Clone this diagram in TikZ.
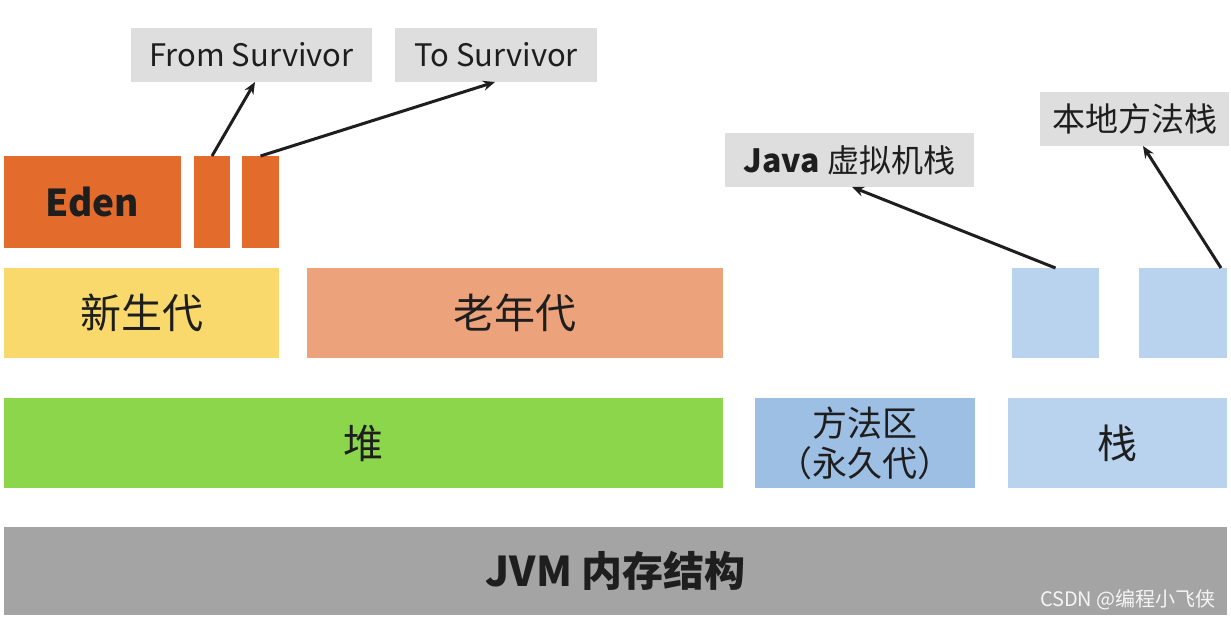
\documentclass[tikz,border=0pt]{standalone}
\usepackage{fontspec}
\setmainfont{Noto Sans CJK SC}
\usetikzlibrary{arrows.meta,calc}
\definecolor{cEden}{HTML}{E36B2C}
\definecolor{cYoung}{HTML}{F9D96B}
\definecolor{cOld}{HTML}{ECA27B}
\definecolor{cHeap}{HTML}{8BD64A}
\definecolor{cMeth}{HTML}{9DBFE3}
\definecolor{cStack}{HTML}{B9D3EE}
\definecolor{cJvm}{HTML}{A4A4A4}
\definecolor{cLabel}{HTML}{DEDEDE}
\definecolor{cText}{HTML}{1E1E1E}
\tikzset{
  blk/.style={rectangle, inner sep=0pt, outer sep=0pt, text=cText, align=center},
  lbl/.style={rectangle, fill=cLabel, inner sep=0pt, outer sep=0pt, text=cText, minimum height=54pt},
  arr/.style={draw=cText, line width=3pt, -{Stealth[length=12pt,width=10pt]}},
}
\begin{document}
\begin{tikzpicture}[x=1pt,y=-1pt]
\useasboundingbox (0,0) rectangle (1231,619);
\fill[white] (0,0) rectangle (1231,619);
% row 1
\node[blk, fill=cEden, minimum width=177pt, minimum height=92pt, font=\fontsize{37}{42}\selectfont\bfseries] (eden) at (92.5,202) {Eden};
\node[blk, fill=cEden, minimum width=36pt, minimum height=92pt] (s1) at (212,202) {};
\node[blk, fill=cEden, minimum width=37pt, minimum height=92pt] (s2) at (260.5,202) {};
\node[lbl, minimum width=241pt, font=\fontsize{31}{34}\selectfont] (from) at (251.5,55) {From Survivor};
\node[lbl, minimum width=202pt, font=\fontsize{31}{34}\selectfont] (to) at (496,55) {To Survivor};
% row 2
\node[blk, fill=cYoung, minimum width=275pt, minimum height=90pt, font=\fontsize{41}{44}\selectfont] (young) at (141.5,313) {新生代};
\node[blk, fill=cOld, minimum width=416pt, minimum height=90pt, font=\fontsize{41}{44}\selectfont] (old) at (515,313) {老年代};
\node[blk, fill=cStack, minimum width=87pt, minimum height=90pt] (b1) at (1055.5,313) {};
\node[blk, fill=cStack, minimum width=88pt, minimum height=90pt] (b2) at (1183,313) {};
\node[lbl, minimum width=249pt, font=\fontsize{32}{36}\selectfont] (java) at (849.5,160) {\textbf{Java} 虚拟机栈};
\node[lbl, minimum width=189pt, font=\fontsize{33}{36}\selectfont] (native) at (1134.5,119) {本地方法栈};
% row 3
\node[blk, fill=cHeap, minimum width=719pt, minimum height=90pt, font=\fontsize{40}{44}\selectfont] (heap) at (363.5,443) {堆};
\node[blk, fill=cMeth, minimum width=220pt, minimum height=90pt, font=\fontsize{35}{40}\selectfont] (meth) at (865,443) {方法区\\（永久代）};
\node[blk, fill=cStack, minimum width=219pt, minimum height=90pt, font=\fontsize{40}{44}\selectfont] (stack) at (1117.5,443) {栈};
% row 4
\node[blk, fill=cJvm, minimum width=1223pt, minimum height=88pt, font=\fontsize{41}{44}\selectfont\bfseries] (jvm) at (615.5,571) {JVM 内存结构};
\node[inner sep=0pt, text=white!92!gray, font=\fontsize{20}{22}\selectfont, anchor=east] (wm) at (1216,600) {CSDN @编程小飞侠};
% arrows
\draw[arr] (s1.north) -- ([xshift=3.5pt]from.south);
\draw[arr] (s2.north) -- ([xshift=-1pt]to.south);
\draw[arr] (b1.north) -- ([xshift=2.5pt]java.south);
\draw[arr] ([xshift=-6pt]b2.north east) -- ([xshift=8.5pt]native.south);
\end{tikzpicture}
\end{document}
